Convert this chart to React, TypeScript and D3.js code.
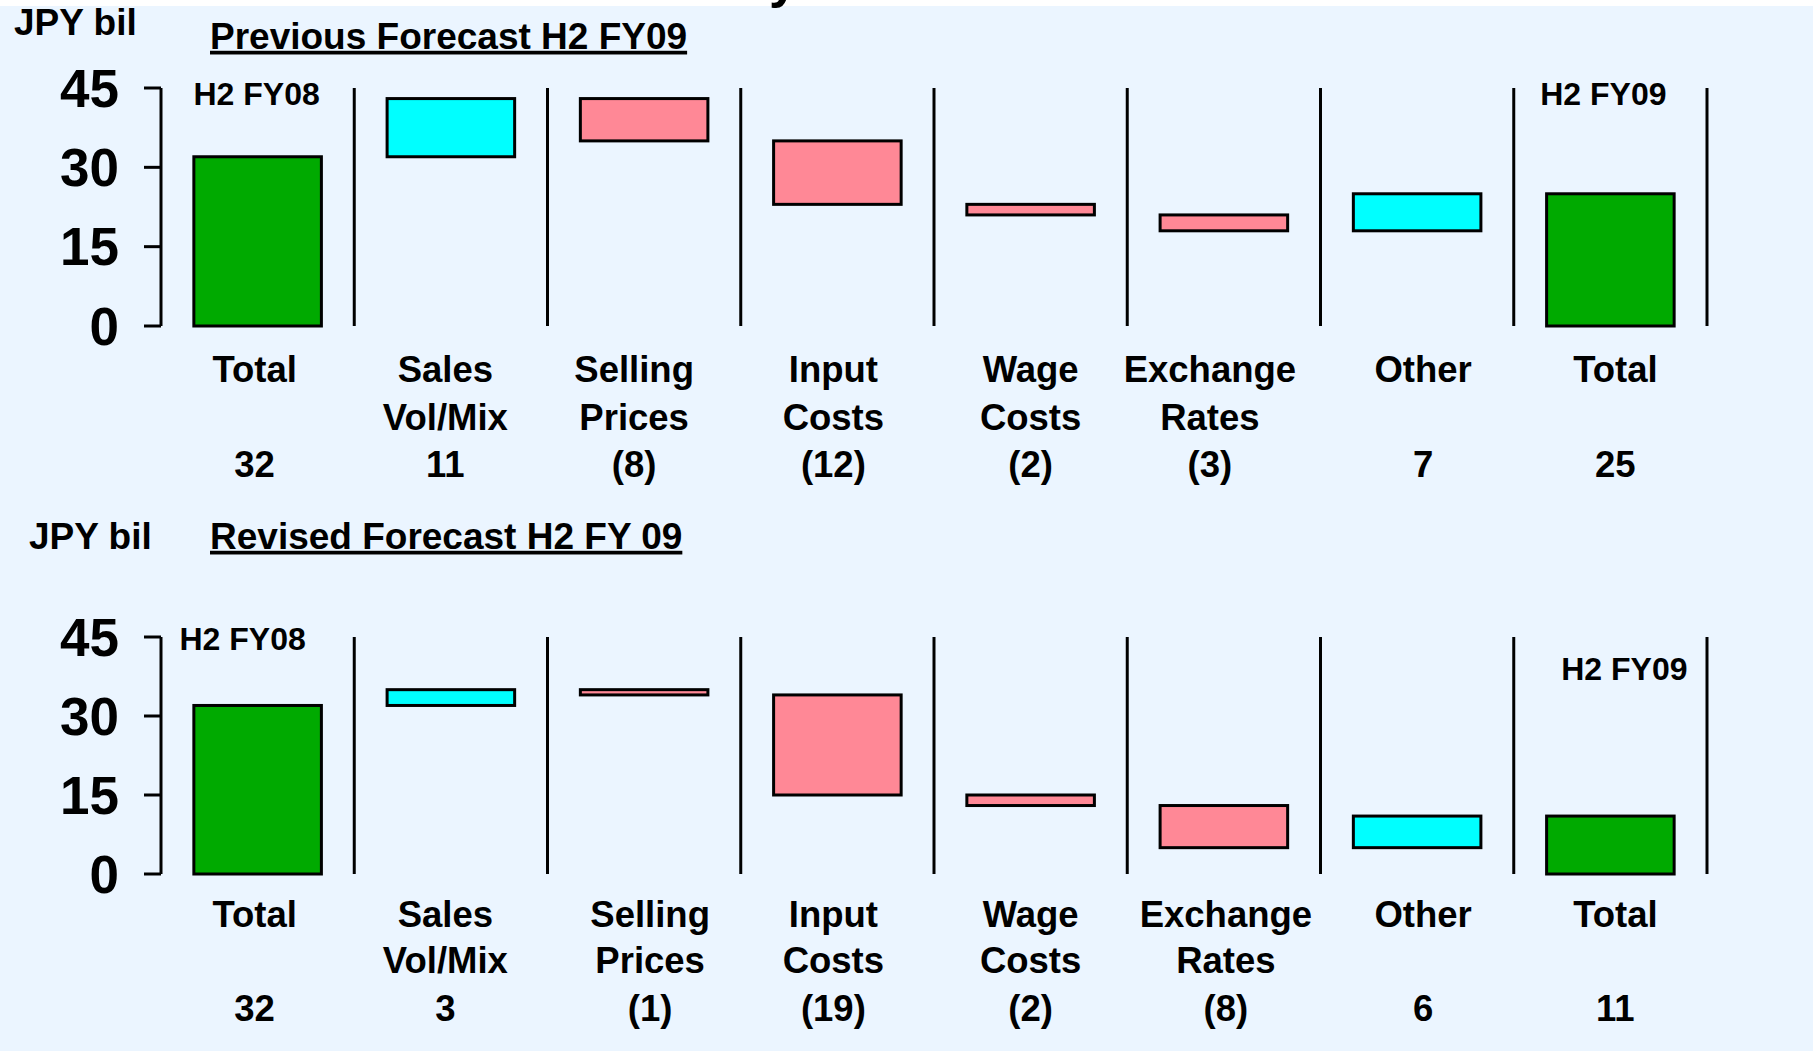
import React from "react";
import * as d3 from "d3";

// category labels (one or two lines each)
const categories = [
  ["Total"],
  ["Sales", "Vol/Mix"],
  ["Selling", "Prices"],
  ["Input", "Costs"],
  ["Wage", "Costs"],
  ["Exchange", "Rates"],
  ["Other"],
  ["Total"],
];

// JPY bil: first and last are totals, the rest are changes
const previousValues = [32, 11, -8, -12, -2, -3, 7, 25];
const revisedValues = [32, 3, -1, -19, -2, -8, 6, 11];

const yTicks = [0, 15, 30, 45];

const GREEN = "#00aa00";
const CYAN = "#00ffff";
const PINK = "#ff8896";
const BG = "#ebf5ff";
const FONT = "'Liberation Sans', Arial, Helvetica, sans-serif";

const W = 1813;
const H = 1051;

const x = d3
  .scaleBand<number>()
  .domain(d3.range(categories.length))
  .range([161, 1707])
  .padding(0);

const fmt = (v: number) => (v < 0 ? `(${Math.abs(v)})` : `${v}`);

function waterfall(values: number[]) {
  let running = 0;
  return values.map((v, i) => {
    if (i === 0 || i === values.length - 1) {
      running = v;
      return { i, lo: 0, hi: v, fill: GREEN };
    }
    const start = running;
    running += v;
    return {
      i,
      lo: Math.min(start, running),
      hi: Math.max(start, running),
      fill: v >= 0 ? CYAN : PINK,
    };
  });
}

type PanelProps = {
  title: string;
  values: number[];
  top: number;
  bottom: number;
  unitX: number;
  unitY: number;
  titleY: number;
  rows: number[];
  labelDx: number[];
  startNote: { dx: number; y: number };
  endNote: { dx: number; y: number };
};

function Panel(p: PanelProps) {
  const y = d3.scaleLinear().domain([0, 45]).range([p.bottom, p.top]);
  const bars = waterfall(p.values);
  const bw = x.bandwidth() * 0.66;
  const n = categories.length;

  return (
    <g>
      <text x={p.unitX} y={p.unitY} dominantBaseline="middle" fontSize={37} fontWeight="bold">
        JPY bil
      </text>
      <text
        x={210}
        y={p.titleY}
        dominantBaseline="middle"
        fontSize={37}
        fontWeight="bold"
        textDecoration="underline"
      >
        {p.title}
      </text>

      {/* y axis */}
      <line x1={161} x2={161} y1={y(45)} y2={y(0)} stroke="#000" strokeWidth={3} />
      {yTicks.map((t) => (
        <g key={t}>
          <line x1={144} x2={161} y1={y(t)} y2={y(t)} stroke="#000" strokeWidth={3} />
          <text
            x={119}
            y={y(t)}
            textAnchor="end"
            dominantBaseline="central"
            fontSize={53}
            fontWeight="bold"
          >
            {t}
          </text>
        </g>
      ))}

      {/* separators */}
      {d3.range(n).map((i) => (
        <line
          key={i}
          x1={(x(i) as number) + x.bandwidth()}
          x2={(x(i) as number) + x.bandwidth()}
          y1={y(45)}
          y2={y(0)}
          stroke="#000"
          strokeWidth={3}
        />
      ))}

      {/* bars */}
      {bars.map((b) => (
        <rect
          key={b.i}
          x={(x(b.i) as number) + (x.bandwidth() - bw) / 2}
          y={y(b.hi)}
          width={bw}
          height={y(b.lo) - y(b.hi)}
          fill={b.fill}
          stroke="#000"
          strokeWidth={3}
        />
      ))}

      <text
        x={(x(0) as number) + x.bandwidth() / 2 + p.startNote.dx}
        y={p.startNote.y}
        textAnchor="middle"
        dominantBaseline="middle"
        fontSize={32}
        fontWeight="bold"
      >
        H2 FY08
      </text>
      <text
        x={(x(n - 1) as number) + x.bandwidth() / 2 + p.endNote.dx}
        y={p.endNote.y}
        textAnchor="middle"
        dominantBaseline="middle"
        fontSize={32}
        fontWeight="bold"
      >
        H2 FY09
      </text>

      {/* category labels and values */}
      {categories.map((lines, i) => {
        const cx = (x(i) as number) + x.bandwidth() / 2 + p.labelDx[i];
        return (
          <g key={i}>
            {lines.map((ln, k) => (
              <text
                key={k}
                x={cx}
                y={p.rows[k]}
                textAnchor="middle"
                dominantBaseline="middle"
                fontSize={36.5}
                fontWeight="bold"
              >
                {ln}
              </text>
            ))}
            <text
              x={cx}
              y={p.rows[2]}
              textAnchor="middle"
              dominantBaseline="middle"
              fontSize={36.5}
              fontWeight="bold"
            >
              {fmt(p.values[i])}
            </text>
          </g>
        );
      })}
    </g>
  );
}

export default function App() {
  return (
    <div style={{ position: "absolute", left: 0, top: 0 }}>
      <svg width={W} height={H} style={{ display: "block", fontFamily: FONT }}>
        <rect x={0} y={0} width={W} height={H} fill={BG} />
        <rect x={0} y={0} width={W} height={6} fill="#fff" />
        <text x={769} y={-3} fontSize={52} fontWeight="bold">
          y
        </text>

        <Panel
          title="Previous Forecast H2 FY09"
          values={previousValues}
          top={88}
          bottom={326}
          unitX={14}
          unitY={25}
          titleY={39}
          rows={[372, 420, 467]}
          labelDx={[-3, -5.5, -10, -4, 0, -14, 6, 5]}
          startNote={{ dx: -1, y: 97 }}
          endNote={{ dx: -7, y: 97 }}
        />
        <Panel
          title="Revised Forecast H2 FY 09"
          values={revisedValues}
          top={637}
          bottom={874}
          unitX={29}
          unitY={539}
          titleY={539}
          rows={[917, 963, 1011]}
          labelDx={[-3, -5.5, 6, -4, 0, 2, 6, 5]}
          startNote={{ dx: -15, y: 642 }}
          endNote={{ dx: 14, y: 672 }}
        />
      </svg>
    </div>
  );
}
